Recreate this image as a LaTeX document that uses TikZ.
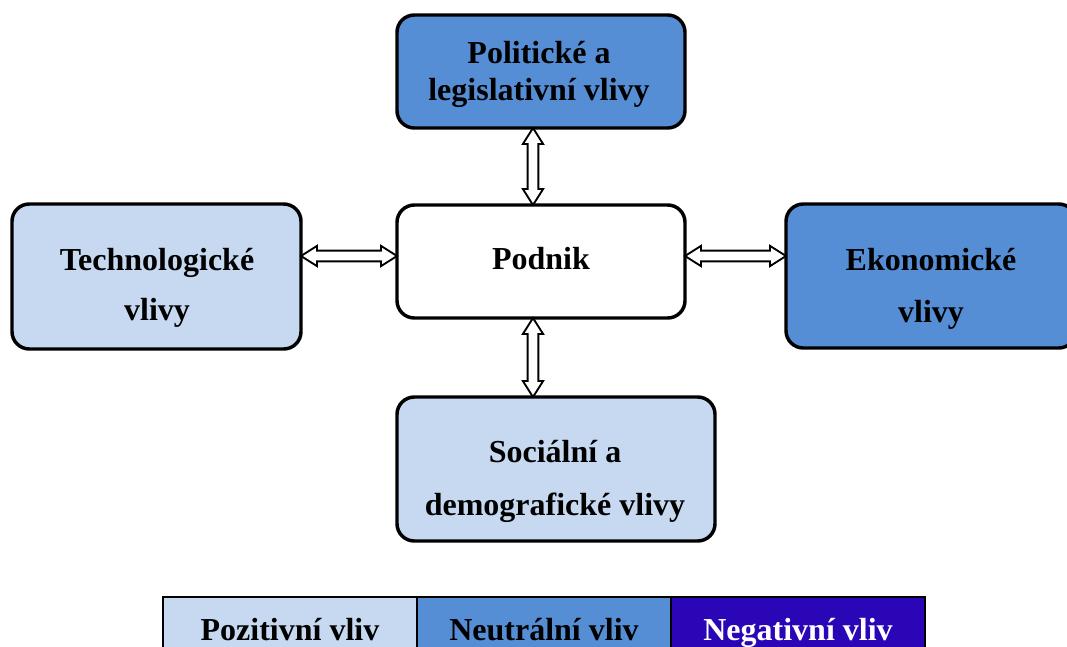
\documentclass[tikz,border=0pt]{standalone}
\usepackage{fontspec}
\setmainfont{Liberation Serif}
\usetikzlibrary{calc}

\definecolor{paleblue}{RGB}{198,217,241}
\definecolor{midblue}{RGB}{85,142,213}
\definecolor{deepblue}{RGB}{42,6,183}

% dimensions of the hollow double-headed arrows
\newcommand\arrHeadLen{12pt}
\newcommand\arrHeadHalf{7.6pt}
\newcommand\arrShaftHalf{4pt}

% hollow double-headed arrow between two named points
\newcommand\hollowarrow[2]{%
  \draw[arrowline] (#1)
    -- ($(#1)!\arrHeadLen!(#2)!\arrHeadHalf!90:(#2)$)
    -- ($(#1)!\arrHeadLen!(#2)!\arrShaftHalf!90:(#2)$)
    -- ($(#2)!\arrHeadLen!(#1)!\arrShaftHalf!-90:(#1)$)
    -- ($(#2)!\arrHeadLen!(#1)!\arrHeadHalf!-90:(#1)$)
    -- (#2)
    -- ($(#2)!\arrHeadLen!(#1)!\arrHeadHalf!90:(#1)$)
    -- ($(#2)!\arrHeadLen!(#1)!\arrShaftHalf!90:(#1)$)
    -- ($(#1)!\arrHeadLen!(#2)!\arrShaftHalf!-90:(#2)$)
    -- ($(#1)!\arrHeadLen!(#2)!\arrHeadHalf!-90:(#2)$)
    -- cycle;}

\begin{document}
\begin{tikzpicture}[x=0.75pt,y=-0.75pt,
  box/.style={draw, line width=2.6pt, rounded corners=13pt, rectangle,
    inner sep=0pt, outer sep=0pt},
  lbl/.style={anchor=base, inner sep=0pt,
    font=\bfseries\fontsize{24pt}{28pt}\selectfont},
  cell/.style={draw, line width=1.4pt, rectangle, inner sep=0pt,
    minimum width=254*0.75pt, minimum height=65*0.75pt,
    text height=16pt, text depth=0pt,
    font=\bfseries\fontsize{24pt}{28pt}\selectfont},
  arrowline/.style={draw=black, fill=white, line width=1.4pt, line join=miter}]

\useasboundingbox (0,0) rectangle (1067,646);
\clip (0,0) rectangle (1067,646);

% influence boxes
\node[box, fill=midblue, minimum width=288*0.75pt, minimum height=113*0.75pt] (pol) at (541,71.5) {};
\node[box, fill=paleblue, minimum width=289*0.75pt, minimum height=145*0.75pt] (tech) at (156.5,276.5) {};
\node[box, fill=white, minimum width=288*0.75pt, minimum height=113*0.75pt] (pod) at (541,261.5) {};
\node[box, fill=midblue, minimum width=290*0.75pt, minimum height=144*0.75pt] (eko) at (931,276) {};
\node[box, fill=paleblue, minimum width=318*0.75pt, minimum height=144*0.75pt] (soc) at (556,469) {};

% box texts
\node[lbl] (pol-a) at (539,63) {Politické a};
\node[lbl] (pol-b) at (539,100) {legislativní vlivy};
\node[lbl] (tech-a) at (157,270) {Technologické};
\node[lbl] (tech-b) at (157,320) {vlivy};
\node[lbl] (pod-a) at (541,269) {Podnik};
\node[lbl] (eko-a) at (931,270) {Ekonomické};
\node[lbl] (eko-b) at (931,322) {vlivy};
\node[lbl] (soc-a) at (555,462) {Sociální a};
\node[lbl] (soc-b) at (555,515) {demografické vlivy};

% arrow end points
\coordinate (hy) at (0,256);
\coordinate (vx) at (533,0);
\coordinate (l1) at (tech.east |- hy);
\coordinate (l2) at (pod.west |- hy);
\coordinate (r1) at (pod.east |- hy);
\coordinate (r2) at (eko.west |- hy);
\coordinate (t1) at (pol.south -| vx);
\coordinate (t2) at (pod.north -| vx);
\coordinate (b1) at (pod.south -| vx);
\coordinate (b2) at (soc.north -| vx);

\hollowarrow{l1}{l2}
\hollowarrow{r1}{r2}
\hollowarrow{t1}{t2}
\hollowarrow{b1}{b2}

% legend
\node[cell, fill=paleblue] (pos) at (290,629.5) {Pozitivní vliv};
\node[cell, fill=midblue] (neu) at (544,629.5) {Neutrální vliv};
\node[cell, fill=deepblue, text=white] (neg) at (798,629.5) {Negativní vliv};

\end{tikzpicture}
\end{document}
